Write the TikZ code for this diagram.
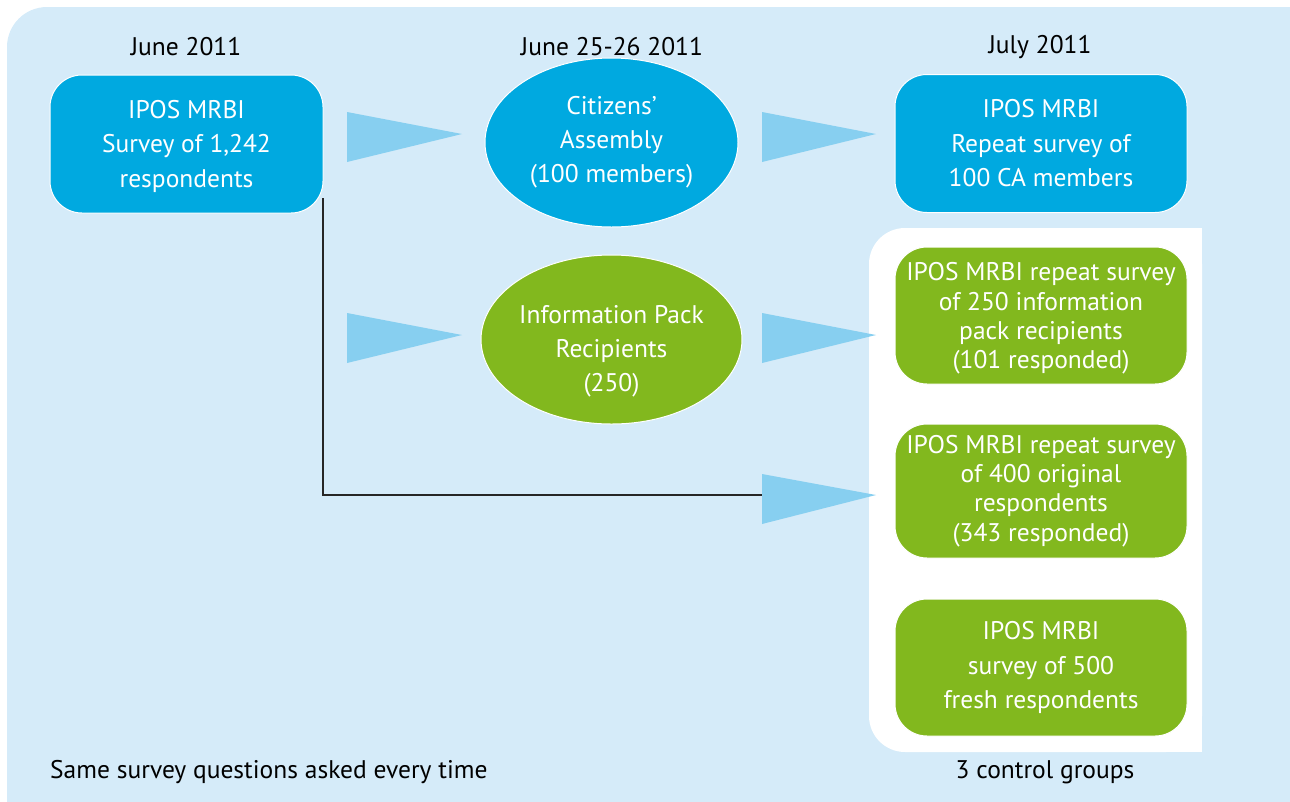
\documentclass[tikz,border=0pt]{standalone}
\usepackage{fontspec}
\setmainfont{PT Sans}
\usetikzlibrary{shapes.geometric}
\definecolor{bg}{RGB}{213,235,249}
\definecolor{cblue}{RGB}{0,169,224}
\definecolor{cgreen}{RGB}{130,184,30}
\definecolor{tri}{RGB}{135,207,240}
\begin{document}
\begin{tikzpicture}[x=1pt,y=-1pt,
  box/.style={draw=white, line width=1pt, rounded corners=32pt, text=white, align=center,
    font=\fontsize{25.5}{34.5}\selectfont, inner sep=0pt, minimum width=292pt, minimum height=137pt},
  bluebox/.style={box, fill=cblue},
  greenbox/.style={box, fill=cgreen, font=\fontsize{25.5}{29.3}\selectfont},
  oval/.style={ellipse, draw=white, line width=1pt, text=white, align=center,
    font=\fontsize{25.5}{34}\selectfont, inner sep=0pt, minimum width=253pt, minimum height=169pt},
  lbl/.style={text=black, font=\fontsize{25.5}{28}\selectfont, inner sep=0pt},
  pointer/.style={fill=tri}]
\useasboundingbox (0,0) rectangle (1290,801);
\begin{scope}
  \clip (0,0) rectangle (1290,801);
  \fill[bg, rounded corners=40pt] (7,7) rectangle (1340,850);
\end{scope}
% white panel of control groups
\fill[white, rounded corners=36pt] (869,228) rectangle (1202,752);
\fill[white] (1150,228) rectangle (1202,752);

% headings
\node[lbl] (h1) at (186,47) {June 2011};
\node[lbl] (h2) at (612,47) {June 25-26 2011};
\node[lbl] (h3) at (1040,47) {July 2011};

% nodes
\node[bluebox, minimum width=273pt, minimum height=138pt] (b1) at (186.5,144) {\rule{0pt}{23pt}IPOS MRBI\\Survey of 1,242\\respondents};
\node[oval, fill=cblue] (e1) at (611.5,142.5) {Citizens’\\Assembly\\(100 members)};
\node[oval, fill=cgreen] (e2) at (611.5,339.5) {\rule{0pt}{41pt}Information Pack\\Recipients\\(250)};
\node[bluebox, minimum height=138pt] (b3) at (1041,143.5) {IPOS MRBI\\Repeat survey of\\100 CA members};
\node[greenbox] (g1) at (1041,315.5) {\rule{0pt}{24pt}IPOS MRBI repeat survey\\of 250 information\\pack recipients\\(101 responded)};
\node[greenbox, minimum height=134pt] (g2) at (1041,491) {IPOS MRBI repeat survey\\of 400 original\\respondents\\(343 responded)};
\node[bluebox, fill=cgreen] (g3) at (1041,667.5) {IPOS MRBI\\survey of 500\\fresh respondents};

% footer texts
\node[lbl, anchor=west] (f1) at (50,772) {Same survey questions asked every time};
\node[lbl] (f2) at (1045,772) {3 control groups};

% connector from the first survey to the repeat survey
\coordinate (l0) at (323,198);
\coordinate (t5) at (764,495);
\draw[line width=1.5pt, black!85] (l0) |- (t5);

% pointers
\fill[pointer] (347,112) -- (347,162) -- (462,134) -- cycle;
\fill[pointer] (347,313) -- (347,363) -- (462,335) -- cycle;
\fill[pointer] (762,112) -- (762,162) -- (876,134) -- cycle;
\fill[pointer] (762,313) -- (762,363) -- (876,335) -- cycle;
\fill[pointer] (762,474) -- (762,524) -- (876,495) -- cycle;
\end{tikzpicture}
\end{document}
